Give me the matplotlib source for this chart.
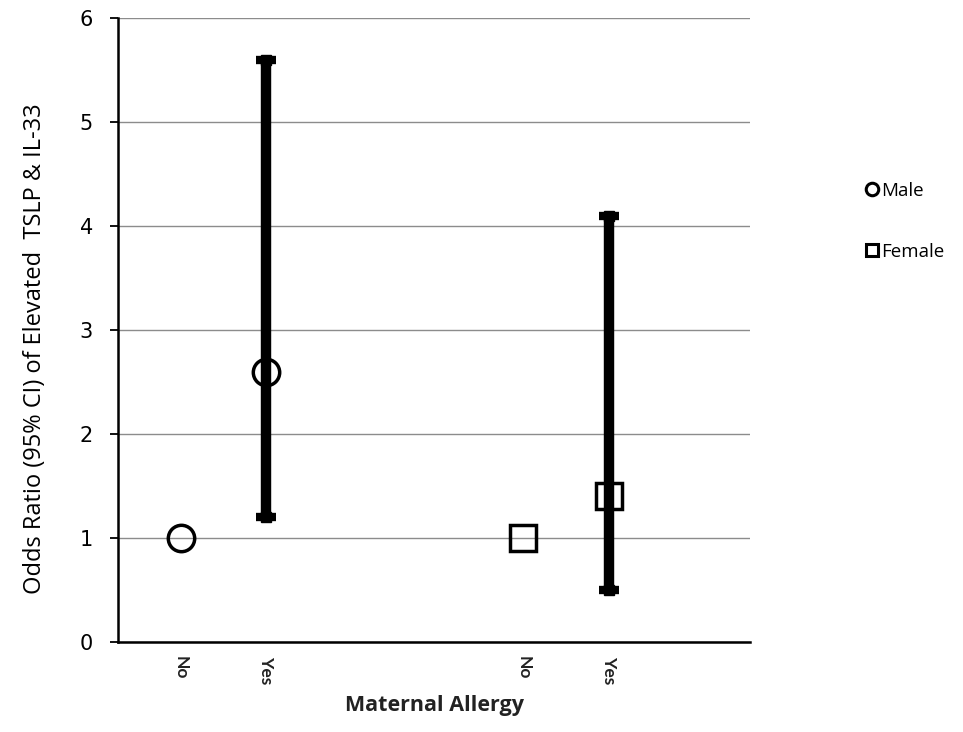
import matplotlib
matplotlib.use("Agg")
import matplotlib.pyplot as plt
from matplotlib.lines import Line2D

# Odds ratios with 95% CI by maternal allergy, split by sex
groups = ["Male", "Female"]
categories = ["No", "Yes", "No", "Yes"]
x_pos = [1, 2, 5, 6]
odds_ratio = [1.0, 2.6, 1.0, 1.4]
ci_low = [None, 1.2, None, 0.5]
ci_high = [None, 5.6, None, 4.1]
markers = ["o", "o", "s", "s"]

fig = plt.figure(figsize=(9.63, 7.32), dpi=100)
ax = fig.add_axes([0.1225, 0.123, 0.6565, 0.852])

for x, lo, hi in zip(x_pos, ci_low, ci_high):
    if lo is None:
        continue
    ax.plot([x, x], [lo, hi], color="black", lw=7.5, solid_capstyle="butt", zorder=2)
    ax.plot([x, x], [lo, hi], ls="none", marker="_", ms=14, mew=6,
            color="black", zorder=2)
    ax.plot([x, x], [lo, hi], ls="none", marker="s", ms=7, color="black", zorder=2)

for x, y, m in zip(x_pos, odds_ratio, markers):
    ax.plot(x, y, marker=m, ms=19, mfc="none", mec="black",
            mew=2.5, ls="none", zorder=3)

ax.set_xlim(0.27, 7.65)
ax.set_ylim(0, 6)
ax.set_yticks(range(0, 7))
ax.set_xticks(x_pos)
ax.set_xticklabels(categories, rotation=270, fontsize=12.5, fontweight="bold",
                   family="Lato", color="#222222")
ax.tick_params(axis="x", length=0, pad=10)
ax.tick_params(axis="y", length=6, width=1.3, labelsize=15, pad=12)
for lab in ax.get_yticklabels():
    lab.set_family("DejaVu Sans")

ax.grid(axis="y", color="#8c8c8c", lw=1.0)
ax.set_axisbelow(True)
for side in ["top", "right"]:
    ax.spines[side].set_visible(False)
ax.spines["left"].set_linewidth(1.8)
ax.spines["bottom"].set_linewidth(1.8)

ax.set_ylabel("Odds Ratio (95% CI) of Elevated  TSLP & IL-33", fontsize=17,
              family="Open Sans")
ax.yaxis.set_label_coords(-0.112, 0.47)
ax.set_xlabel("Maternal Allergy", fontsize=15.5, family="Open Sans", fontweight="bold",
              color="#222222", labelpad=8)

handles = [
    Line2D([], [], marker="o", ls="none", mfc="white", mec="black", mew=2.2, ms=9),
    Line2D([], [], marker="s", ls="none", mfc="white", mec="black", mew=2.2, ms=9),
]
fig.legend(handles, groups, loc="upper left", bbox_to_anchor=(0.878, 0.775),
           frameon=False, prop={"family": "Open Sans", "size": 13.5},
           handletextpad=0.0, labelspacing=2.3, handlelength=1.0)

fig.savefig("out.png", dpi=100)
